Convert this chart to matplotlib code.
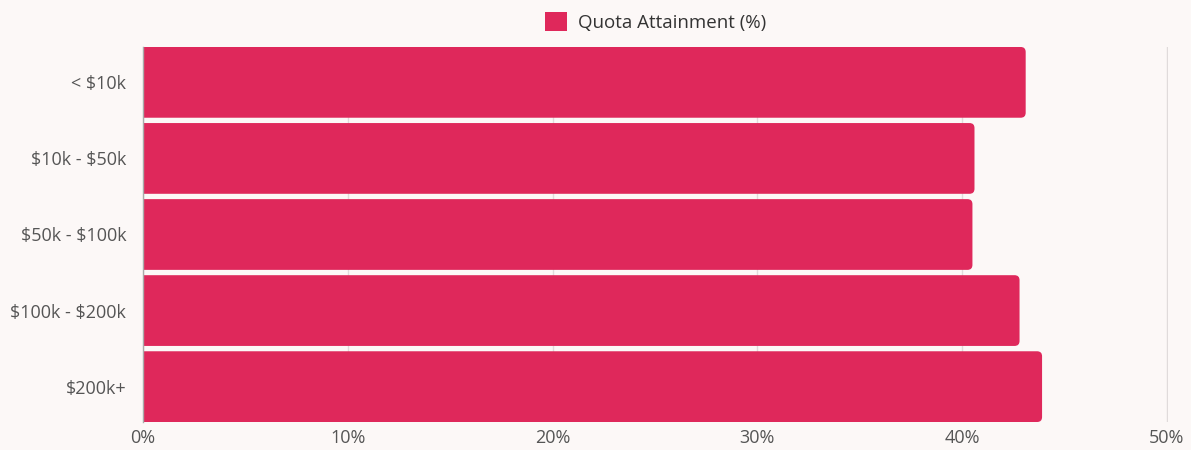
import matplotlib.pyplot as plt
from matplotlib.path import Path
from matplotlib.patches import PathPatch, Patch

plt.rcParams['font.family'] = ['Open Sans', 'DejaVu Sans']
plt.rcParams['text.parse_math'] = False

# Deal size bands and quota attainment
deal_sizes = ['< $10k', '$10k - $50k', '$50k - $100k', '$100k - $200k', '$200k+']
attainment = [43.1, 40.6, 40.5, 42.8, 43.9]
x_ticks = [0, 10, 20, 30, 40, 50]

bg = '#fcf8f7'
bar_color = '#df285b'
text_color = '#555555'
bar_h = 0.93

fig = plt.figure(figsize=(11.91, 4.5), dpi=100, facecolor=bg)
ax = fig.add_axes([0.1201, 0.0622, 0.8606, 0.8334], facecolor=bg)

ypos = list(range(len(deal_sizes)))
bars = ax.barh(ypos, attainment, height=bar_h, color=bar_color, zorder=2)
ax.set_xlim(0, 50.05)
ax.set_ylim(len(deal_sizes) - 1 + bar_h / 2, -bar_h / 2)

# swap plain bars for ones with rounded right ends
px_x = 1191 * 0.8606 / 50
px_y = 450 * 0.8334 / (len(deal_sizes) - 1 + bar_h)
rx, ry = 5 / px_x, 5 / px_y


def rounded_right(x, y, w, h):
    verts = [(x, y), (x + w - rx, y), (x + w, y), (x + w, y + ry),
             (x + w, y + h - ry), (x + w, y + h), (x + w - rx, y + h),
             (x, y + h), (x, y)]
    codes = [Path.MOVETO, Path.LINETO, Path.CURVE3, Path.CURVE3,
             Path.LINETO, Path.CURVE3, Path.CURVE3, Path.LINETO, Path.CLOSEPOLY]
    return Path(verts, codes)


for b in bars:
    b.set_visible(False)
    p = rounded_right(b.get_x(), b.get_y(), b.get_width(), b.get_height())
    ax.add_patch(PathPatch(p, fc=bar_color, ec='none', zorder=2))

ax.set_xticks(x_ticks)
ax.set_xticklabels([f'{t}%' for t in x_ticks])
ax.set_yticks(ypos)
ax.set_yticklabels(deal_sizes)
ax.grid(axis='x', color='#e0dbdb', linewidth=1, zorder=0)
ax.tick_params(axis='both', length=0, labelsize=13, colors=text_color)
ax.tick_params(axis='y', pad=12)
ax.tick_params(axis='x', pad=5)
for s in ['top', 'right', 'bottom']:
    ax.spines[s].set_visible(False)
ax.spines['left'].set_color('#aaaaaa')
ax.spines['left'].set_linewidth(1)

# legend centred over the plotting area
handle = Patch(facecolor=bar_color, edgecolor='none')
ax.legend([handle], ['Quota Attainment (%)'], loc='lower center',
          bbox_to_anchor=(0.5, 0.995), frameon=False, fontsize=13.5,
          handlelength=1.15, handleheight=1.2, handletextpad=0.6,
          labelcolor='#333333')

fig.savefig('out.png', dpi=100, facecolor=bg)
